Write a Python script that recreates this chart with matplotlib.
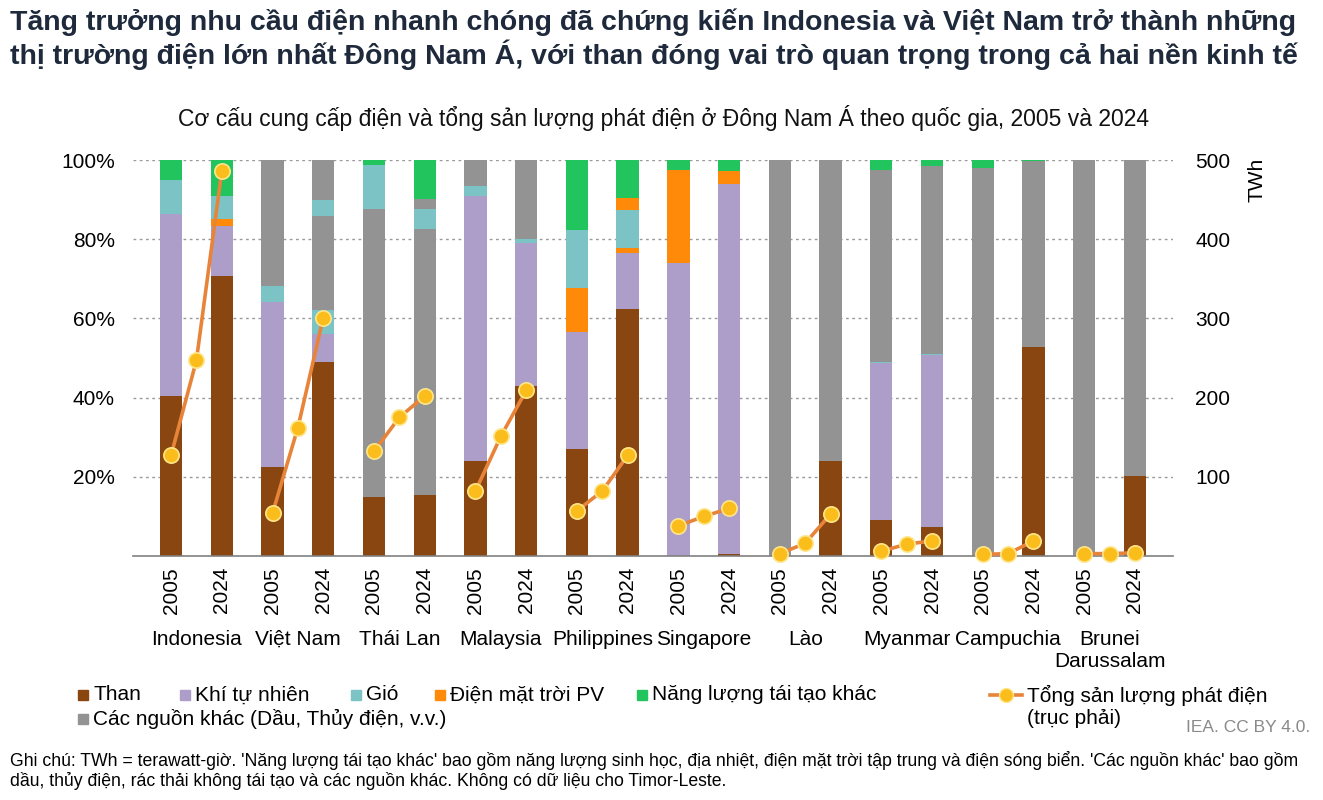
import matplotlib
matplotlib.use("Agg")
import matplotlib.pyplot as plt
from matplotlib.patches import Rectangle
from matplotlib.lines import Line2D
import numpy as np

plt.rcParams['font.family'] = ['Liberation Sans', 'DejaVu Sans']

countries = ["Indonesia", "Việt Nam", "Thái Lan", "Malaysia", "Philippines",
             "Singapore", "Lào", "Myanmar", "Campuchia", "Brunei\nDarussalam"]
years = ["2005", "2024"]

# Share of generation (%) per bar, order: each country 2005 then 2024
than     = [40.4, 70.7, 22.6, 49.1, 15.0, 15.3, 23.9, 42.9, 26.9, 62.4, 0.0, 0.6, 0.0, 23.9, 9.2, 7.2, 0.0, 52.9, 0.0, 20.3]
khi      = [46.0, 12.6, 41.5, 6.9, 0.0, 0.0, 67.1, 36.1, 29.7, 14.2, 74.0, 93.3, 0.0, 0.0, 39.5, 43.5, 0.0, 0.0, 0.0, 0.0]
pv_1     = [0.0, 1.7, 0.0, 0.0, 0.0, 0.0, 0.0, 0.0, 11.0, 1.3, 23.5, 3.4, 0.0, 0.0, 0.0, 0.0, 0.0, 0.0, 0.0, 0.0]
gio_1    = [8.5, 6.0, 4.2, 6.1, 0.0, 0.0, 2.5, 1.0, 14.6, 9.5, 0.0, 0.0, 0.0, 0.0, 0.3, 0.3, 0.0, 0.0, 0.0, 0.0]
khac_1   = [0.0, 0.0, 31.7, 23.8, 72.6, 67.2, 6.5, 20.0, 0.0, 0.0, 0.0, 0.0, 100.0, 76.1, 48.5, 47.4, 98.1, 46.8, 100.0, 79.7]
gio_2    = [0.0, 0.0, 0.0, 4.0, 11.1, 5.1, 0.0, 0.0, 0.0, 0.0, 0.0, 0.0, 0.0, 0.0, 0.0, 0.0, 0.0, 0.0, 0.0, 0.0]
khac_2   = [0.0, 0.0, 0.0, 10.1, 0.0, 2.5, 0.0, 0.0, 0.0, 0.0, 0.0, 0.0, 0.0, 0.0, 0.0, 0.0, 0.0, 0.0, 0.0, 0.0]
pv_2     = [0.0, 0.0, 0.0, 0.0, 0.0, 0.0, 0.0, 0.0, 0.0, 2.9, 0.0, 0.0, 0.0, 0.0, 0.0, 0.0, 0.0, 0.0, 0.0, 0.0]
tai_tao_khac = [5.1, 9.0, 0.0, 0.0, 1.3, 9.9, 0.0, 0.0, 17.8, 9.7, 2.5, 2.7, 0.0, 0.0, 2.5, 1.6, 1.9, 0.3, 0.0, 0.0]

# Total generation (TWh): 2005, intermediate year, 2024
tong_2005 = [127, 54, 132, 82, 57, 38, 3, 6, 2, 3]
tong_giua = [247, 162, 175, 151, 82, 50, 16, 15, 3, 3]
tong_2024 = [486, 301, 202, 209, 127, 60, 53, 19, 19, 4]

C_THAN = "#8a4610"
C_KHI = "#ad9dc9"
C_GIO = "#7cc3c5"
C_PV = "#ff8a0a"
C_TTK = "#22c45e"
C_KHAC = "#939393"
C_LINE = "#e8843a"
C_MARK = "#fbbd1c"

fig = plt.figure(figsize=(13.23, 8.0), dpi=100)
ax = fig.add_axes([133/1323, 1-556/800, (1173-133)/1323, (556-160)/800])

n = len(than)
x = np.arange(n)
w = 0.44
layers = [(than, C_THAN), (khi, C_KHI), (pv_1, C_PV), (gio_1, C_GIO), (khac_1, C_KHAC),
          (gio_2, C_GIO), (khac_2, C_KHAC), (pv_2, C_PV), (tai_tao_khac, C_TTK)]
bottom = np.zeros(n)
for vals, col in layers:
    v = np.array(vals, dtype=float)
    ax.bar(x, v, w, bottom=bottom, color=col, edgecolor='none', zorder=2)
    bottom += v

ax.set_xlim(-0.75, n - 1 + 0.75)
ax.set_ylim(0, 100)
ax.set_yticks([20, 40, 60, 80, 100])
ax.set_yticklabels(["20%", "40%", "60%", "80%", "100%"], fontsize=15)
ax.yaxis.grid(True, linestyle=(0, (2, 2.5)), color="#9a9a9a", linewidth=1.0, zorder=0)
ax.set_axisbelow(True)
ax.tick_params(axis='y', length=0, pad=13)
ax.tick_params(axis='x', length=0, pad=8)
ax.set_xticks(x)
ax.set_xticklabels(years * len(countries), rotation=90, fontsize=15)
for s in ["top", "left", "right"]:
    ax.spines[s].set_visible(False)
ax.spines["bottom"].set_color("#808080")
ax.spines["bottom"].set_linewidth(1.2)

for k, c in enumerate(countries):
    ax.text(2*k + 0.5, -18.6, c, ha='center', va='top', fontsize=15,
            transform=ax.transData, linespacing=1.25)

ax2 = ax.twinx()
ax2.set_ylim(0, 500)
ax2.set_yticks([100, 200, 300, 400, 500])
ax2.set_yticklabels(["100", "200", "300", "400", "500"], fontsize=15)
ax2.tick_params(axis='y', length=0, pad=16)
for s in ["top", "left", "right", "bottom"]:
    ax2.spines[s].set_visible(False)
for k in range(len(countries)):
    xs = [2*k, 2*k + 0.5, 2*k + 1]
    ys = [tong_2005[k], tong_giua[k], tong_2024[k]]
    ax2.plot(xs, ys, color=C_LINE, lw=2.6, zorder=5, marker='o', markersize=11,
             markerfacecolor=C_MARK, markeredgecolor="#fde68a", markeredgewidth=1.2,
             clip_on=False)
ax2.text(1.081, 1.005, "TWh", transform=ax2.transAxes, rotation=90, ha='center', va='top', fontsize=15)

# Titles
fig.text(10/1323, 1-22/800, "Tăng trưởng nhu cầu điện nhanh chóng đã chứng kiến Indonesia và Việt Nam trở thành những",
         fontsize=20.5, fontweight='bold', color="#1e2a3c", ha='left', va='center')
fig.text(10/1323, 1-55/800, "thị trường điện lớn nhất Đông Nam Á, với than đóng vai trò quan trọng trong cả hai nền kinh tế",
         fontsize=20.5, fontweight='bold', color="#1e2a3c", ha='left', va='center')
fig.text(663/1323, 1-118/800, "Cơ cấu cung cấp điện và tổng sản lượng phát điện ở Đông Nam Á theo quốc gia, 2005 và 2024",
         fontsize=16.5, ha='center', va='center', color="#111111")

# Legend (manual)
def sq(xp, yp, col, label):
    fig.add_artist(Rectangle(((xp)/1323, 1-(yp+5)/800), 10/1323, 10/800, color=col,
                             transform=fig.transFigure))
    fig.text((xp+15)/1323, 1-yp/800, label, fontsize=15, ha='left', va='center')

sq(78, 695, C_THAN, "Than")
sq(180, 695, C_KHI, "Khí tự nhiên")
sq(351, 695, C_GIO, "Gió")
sq(435, 695, C_PV, "Điện mặt trời PV")
sq(637, 695, C_TTK, "Năng lượng tái tạo khác")
sq(78, 719, C_KHAC, "Các nguồn khác (Dầu, Thủy điện, v.v.)")
fig.add_artist(Line2D([990/1323, 1022/1323], [1-695/800, 1-695/800], color=C_LINE, lw=2.6,
                      transform=fig.transFigure))
fig.add_artist(Line2D([1006/1323], [1-695/800], marker='o', markersize=10, markerfacecolor=C_MARK,
                      markeredgecolor="#fde68a", transform=fig.transFigure))
fig.text(1027/1323, 1-695/800, "Tổng sản lượng phát điện", fontsize=15, ha='left', va='center')
fig.text(1027/1323, 1-719/800, "(trục phải)", fontsize=15, ha='left', va='center')
fig.text(1310/1323, 1-728/800, "IEA. CC BY 4.0.", fontsize=12.5, ha='right', va='center', color="#8a8a8a")

fig.text(10/1323, 1-760/800, "Ghi chú: TWh = terawatt-giờ. 'Năng lượng tái tạo khác' bao gồm năng lượng sinh học, địa nhiệt, điện mặt trời tập trung và điện sóng biển. 'Các nguồn khác' bao gồm",
         fontsize=12.7, ha='left', va='center')
fig.text(10/1323, 1-781/800, "dầu, thủy điện, rác thải không tái tạo và các nguồn khác. Không có dữ liệu cho Timor-Leste.",
         fontsize=12.7, ha='left', va='center')

fig.savefig("out.png", dpi=100)
